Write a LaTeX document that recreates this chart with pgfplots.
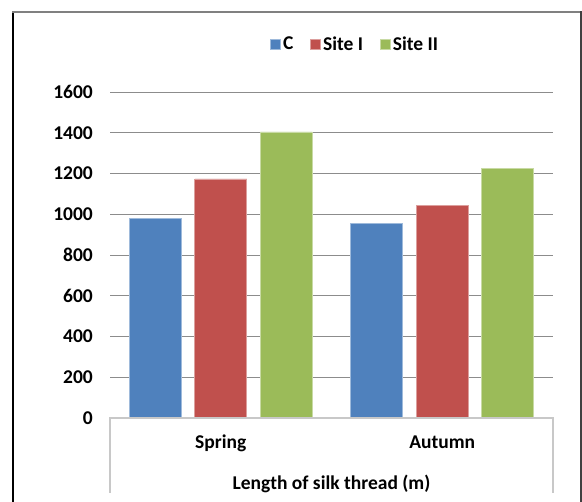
\documentclass[border=0pt]{standalone}
\usepackage{pgfplots}
\pgfplotsset{compat=1.18}
\usepackage{fontspec}
\setmainfont{Carlito}
\definecolor{cBlue}{HTML}{4F81BD}
\definecolor{cRed}{HTML}{C0504D}
\definecolor{cGreen}{HTML}{9BBB59}
\definecolor{gridc}{HTML}{8C8C8C}
\definecolor{boxc}{HTML}{C8C8C8}
\newcommand{\chfont}{\fontsize{19.5bp}{22bp}\selectfont\bfseries}
\begin{document}
\begin{tikzpicture}[x=1bp,y=1bp]
\begin{axis}[
  at={(110bp,84bp)}, anchor=south west,
  scale only axis, width=443bp, height=326bp,
  xmin=0, xmax=2, ymin=0, ymax=1600,
  axis line style={draw=none},
  ytick={0,200,...,1600},
  ymajorgrids, grid style={gridc, line width=0.75bp},
  major tick length=0pt,
  xtick={0.5,1.5}, xticklabels={Spring,Autumn},
  ybar, bar width=52bp,
  tick label style={font=\chfont},
  yticklabel style={anchor=east, inner sep=0pt, xshift=-17bp},
  xticklabel style={anchor=base, inner sep=0pt, yshift=-31bp},
  /pgf/number format/assume math mode=true,
  /pgf/number format/1000 sep={},
  xlabel={Length of silk thread (m)},
  xlabel style={at={(axis description cs:0.5,0)}, anchor=base, inner sep=0pt, yshift=-71.5bp, font=\chfont},
  legend image code/.code={\path (-17bp,0bp) (12bp,0bp); \fill[#1] (0bp,-5bp) rectangle (10bp,5bp);},
  legend columns=3,
  legend style={at={(axis description cs:0.532,1.147)}, anchor=center, draw=none, fill=none, font=\chfont,
    inner sep=0pt, nodes={inner sep=0pt}},
]
\addplot[bar shift=-65.5bp, fill=cBlue, draw=cBlue!55!white, line width=0.8bp] coordinates {(0.5,978) (1.5,953)};
\addplot[bar shift=0bp, fill=cRed, draw=cRed!55!white, line width=0.8bp] coordinates {(0.5,1173) (1.5,1045)};
\addplot[bar shift=65.5bp, fill=cGreen, draw=cGreen!55!white, line width=0.8bp] coordinates {(0.5,1404) (1.5,1226)};
\legend{C, Site I, Site II}
\end{axis}
\draw[boxc, line width=1.2bp] (110,9) -- (110,84) -- (553,84) -- (553,9);
\draw[black, line width=1.5bp] (13,-2) -- (13,490);
\draw[gray, line width=1.5bp] (12.25,490) -- (581,490);
\draw[darkgray, line width=1.5bp] (581,490.75) -- (581,-2);
\pgfresetboundingbox
\useasboundingbox (0,0) rectangle (582,502);
\end{tikzpicture}
\end{document}
